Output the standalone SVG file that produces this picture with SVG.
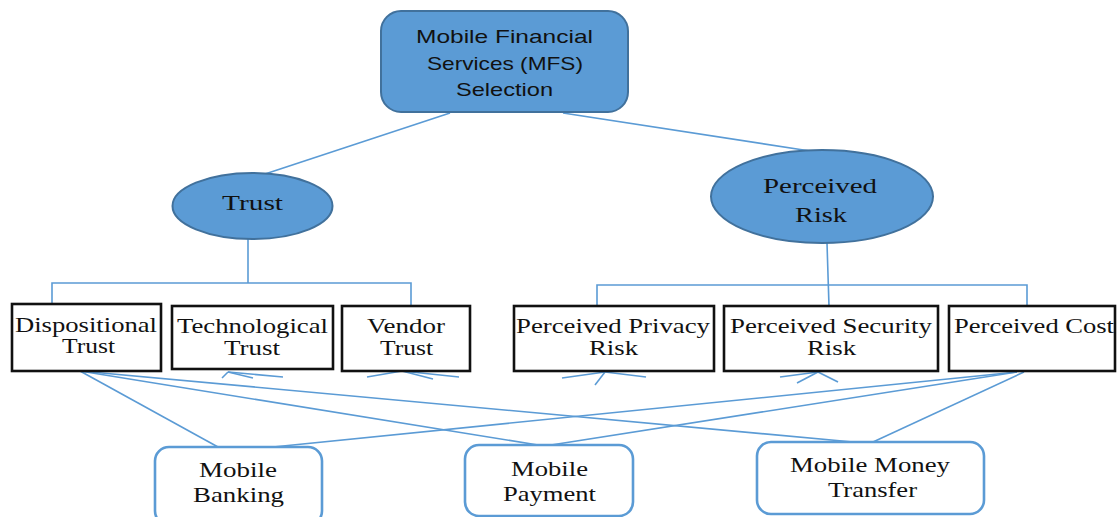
<svg xmlns="http://www.w3.org/2000/svg" width="1117" height="517" viewBox="0 0 1117 517">
<style>
.bg{fill:#ffffff}
.hub{fill:#5B9BD5;stroke:#41719C;stroke-width:2}
.box{fill:#ffffff;stroke:#111111;stroke-width:2.6}
.svc{fill:#ffffff;stroke:#5B9BD5;stroke-width:2.6}
.ln{stroke:#5B9BD5;stroke-width:1.6;fill:none}
.sans{font-family:"Liberation Sans",Arial,sans-serif;font-size:19px;fill:#111111}
.serif{font-family:"Liberation Serif","Times New Roman",serif;font-size:22px;fill:#111111}
</style>
<rect class="bg" x="0" y="0" width="1117" height="517"/>
<g id="connectors">
<line class="ln" x1="450" y1="113" x2="265" y2="174"/>
<line class="ln" x1="563" y1="113" x2="810" y2="151"/>
<line class="ln" x1="248" y1="239" x2="248" y2="283"/>
<polyline class="ln" points="52,305 52,283 411,283 411,305"/>
<line class="ln" x1="827" y1="243" x2="829" y2="306"/>
<polyline class="ln" points="597,306 597,285 1027,285 1027,306"/>
<line class="ln" x1="80" y1="371" x2="218" y2="447"/>
<line class="ln" x1="80" y1="371" x2="538" y2="445"/>
<line class="ln" x1="80" y1="371" x2="853" y2="442"/>
<line class="ln" x1="1017" y1="372" x2="273" y2="447"/>
<line class="ln" x1="1017" y1="372" x2="551" y2="445"/>
<line class="ln" x1="1024" y1="372" x2="873" y2="442"/>
<line class="ln" x1="228" y1="372" x2="222" y2="378"/>
<line class="ln" x1="228" y1="372" x2="253" y2="378"/>
<line class="ln" x1="228" y1="372" x2="283" y2="377"/>
<line class="ln" x1="402" y1="371" x2="367" y2="377"/>
<line class="ln" x1="402" y1="371" x2="433" y2="379"/>
<line class="ln" x1="402" y1="371" x2="459" y2="377"/>
<line class="ln" x1="605" y1="372" x2="562" y2="378"/>
<line class="ln" x1="605" y1="372" x2="595" y2="385"/>
<line class="ln" x1="605" y1="372" x2="646" y2="377"/>
<line class="ln" x1="818" y1="372" x2="780" y2="377"/>
<line class="ln" x1="818" y1="372" x2="797" y2="383"/>
<line class="ln" x1="818" y1="372" x2="838" y2="382"/>
</g>
<g id="mfs">
<rect class="hub" x="381" y="11" width="247" height="101" rx="20"/>
<text class="sans" x="416" y="43" textLength="177" lengthAdjust="spacingAndGlyphs">Mobile Financial</text>
<text class="sans" x="427" y="70" textLength="156" lengthAdjust="spacingAndGlyphs">Services (MFS)</text>
<text class="sans" x="456" y="96" textLength="97" lengthAdjust="spacingAndGlyphs">Selection</text>
</g>
<g id="trust">
<ellipse class="hub" cx="252.5" cy="206" rx="80" ry="33"/>
<text class="serif" x="222" y="210" textLength="61" lengthAdjust="spacingAndGlyphs">Trust</text>
</g>
<g id="perceived-risk">
<ellipse class="hub" cx="822" cy="196.5" rx="111" ry="46.5"/>
<text class="serif" x="763" y="193" textLength="114" lengthAdjust="spacingAndGlyphs">Perceived</text>
<text class="serif" x="795" y="222" textLength="52" lengthAdjust="spacingAndGlyphs">Risk</text>
</g>
<g id="dispositional-trust">
<rect class="box" x="12" y="304" width="149" height="67"/>
<text class="serif" x="15" y="332" textLength="142" lengthAdjust="spacingAndGlyphs">Dispositional</text>
<text class="serif" x="62" y="353" textLength="53" lengthAdjust="spacingAndGlyphs">Trust</text>
</g>
<g id="technological-trust">
<rect class="box" x="172" y="306" width="161" height="63"/>
<text class="serif" x="177" y="333" textLength="151" lengthAdjust="spacingAndGlyphs">Technological</text>
<text class="serif" x="224" y="355" textLength="56" lengthAdjust="spacingAndGlyphs">Trust</text>
</g>
<g id="vendor-trust">
<rect class="box" x="342" y="306" width="128" height="65"/>
<text class="serif" x="367" y="333" textLength="78" lengthAdjust="spacingAndGlyphs">Vendor</text>
<text class="serif" x="380" y="355" textLength="53" lengthAdjust="spacingAndGlyphs">Trust</text>
</g>
<g id="perceived-privacy-risk">
<rect class="box" x="514" y="306" width="200" height="65"/>
<text class="serif" x="516" y="333" textLength="194" lengthAdjust="spacingAndGlyphs">Perceived Privacy</text>
<text class="serif" x="589" y="355" textLength="49" lengthAdjust="spacingAndGlyphs">Risk</text>
</g>
<g id="perceived-security-risk">
<rect class="box" x="724" y="306" width="214" height="65"/>
<text class="serif" x="730" y="333" textLength="202" lengthAdjust="spacingAndGlyphs">Perceived Security</text>
<text class="serif" x="807" y="355" textLength="49" lengthAdjust="spacingAndGlyphs">Risk</text>
</g>
<g id="perceived-cost">
<rect class="box" x="949" y="306" width="166" height="65"/>
<text class="serif" x="954" y="333" textLength="160" lengthAdjust="spacingAndGlyphs">Perceived Cost</text>
</g>
<g id="mobile-banking">
<rect class="svc" x="155" y="447" width="167" height="78" rx="14"/>
<text class="serif" x="199" y="477" textLength="78" lengthAdjust="spacingAndGlyphs">Mobile</text>
<text class="serif" x="193" y="502" textLength="91" lengthAdjust="spacingAndGlyphs">Banking</text>
</g>
<g id="mobile-payment">
<rect class="svc" x="465" y="445" width="168" height="71" rx="14"/>
<text class="serif" x="511" y="476" textLength="77" lengthAdjust="spacingAndGlyphs">Mobile</text>
<text class="serif" x="503" y="501" textLength="93" lengthAdjust="spacingAndGlyphs">Payment</text>
</g>
<g id="mobile-money-transfer">
<rect class="svc" x="757" y="442" width="227" height="72" rx="14"/>
<text class="serif" x="790" y="472" textLength="160" lengthAdjust="spacingAndGlyphs">Mobile Money</text>
<text class="serif" x="828" y="497" textLength="89" lengthAdjust="spacingAndGlyphs">Transfer</text>
</g>
</svg>
